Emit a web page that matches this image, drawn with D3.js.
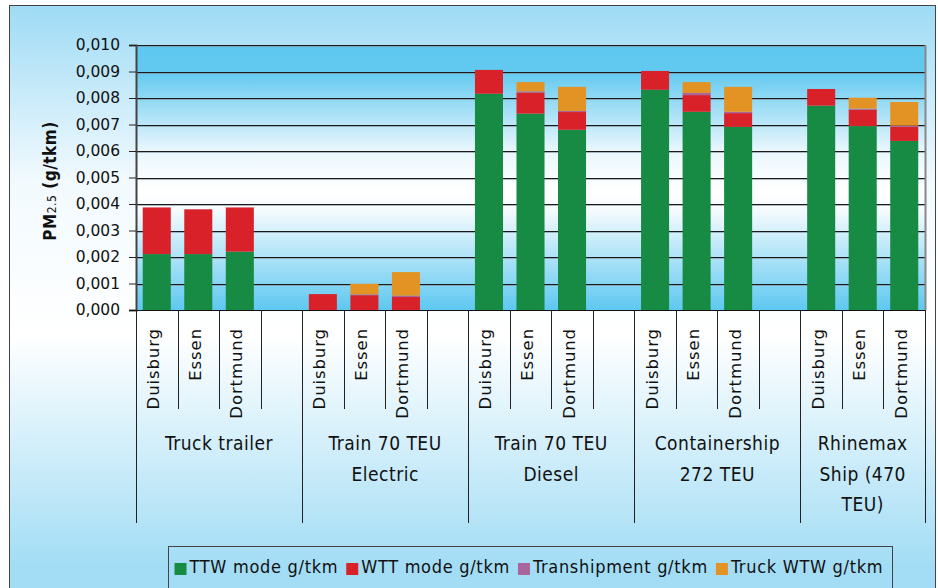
<!DOCTYPE html>
<html>
<head>
<meta charset="utf-8">
<script src="https://cdn.jsdelivr.net/npm/d3@7"></script>
<style>
  body { margin: 0; background: #fff; }
  svg { display: block; font-family: "DejaVu Sans", sans-serif; }
  .cond { font-family: "DejaVu Sans Condensed", "DejaVu Sans", sans-serif; font-stretch: condensed; }
</style>
</head>
<body>
<div id="chart"></div>
<script>
// values (g/tkm)
var groupLines = [["Truck trailer"], ["Train 70 TEU", "Electric"], ["Train 70 TEU", "Diesel"], ["Containership", "272 TEU"], ["Rhinemax", "Ship (470", "TEU)"]];
var cities = ["Duisburg", "Essen", "Dortmund"];
var seriesNames = ["TTW mode g/tkm", "WTT mode g/tkm", "Transhipment g/tkm", "Truck WTW g/tkm"];
var colors = ["#178a43", "#d9212a", "#a9659d", "#e39324"];
var ttw      = [0.00211, 0.00211, 0.00220, 0, 0, 0, 0.00816, 0.00741, 0.00680, 0.00831, 0.00748, 0.00691, 0.00771, 0.00694, 0.00638];
var wtt      = [0.00176, 0.00169, 0.00167, 0.00060, 0.00056, 0.00049, 0.00090, 0.00080, 0.00067, 0.00071, 0.00063, 0.00052, 0.00063, 0.00062, 0.00053];
var tranship = [0, 0, 0, 0, 0.00003, 0.00005, 0, 0.00004, 0.00004, 0, 0.00008, 0.00005, 0, 0.00004, 0.00005];
var truck    = [0, 0, 0, 0, 0.00040, 0.00089, 0, 0.00035, 0.00091, 0, 0.00041, 0.00094, 0, 0.00041, 0.00089];
var yTicks = [0, 0.001, 0.002, 0.003, 0.004, 0.005, 0.006, 0.007, 0.008, 0.009, 0.010];

var W = 938, H = 588;
var plot = {left: 136, right: 925, top: 45, bottom: 310};

// one row per bar
var rows = [];
groupLines.forEach(function (g, gi) {
  cities.forEach(function (c, ci) {
    var k = gi * 3 + ci;
    rows.push({key: gi + "|" + c, g: gi, c: ci, ttw: ttw[k], wtt: wtt[k], tranship: tranship[k], truck: truck[k]});
  });
});
// slot domain: 3 cities then an empty slot (not after the last group)
var slots = [];
groupLines.forEach(function (g, gi) {
  cities.forEach(function (c) { slots.push(gi + "|" + c); });
  if (gi < groupLines.length - 1) slots.push(gi + "|gap");
});

var keys = ["ttw", "wtt", "tranship", "truck"];
var series = d3.stack().keys(keys)(rows);

var x = d3.scaleBand()
  .domain(slots)
  .range([plot.left, plot.right])
  .paddingInner(0.325)
  .paddingOuter(0.1625);
var slotStart = function (s) { return x(s) - x.step() * x.paddingInner() / 2; };

var y = d3.scaleLinear()
  .domain([0, 0.010])
  .range([plot.bottom, plot.top]);

var svg = d3.select("#chart").append("svg")
  .attr("width", W).attr("height", H);

var defs = svg.append("defs");
var outerG = defs.append("linearGradient").attr("id", "outerG").attr("x1", 0).attr("y1", 0).attr("x2", 0).attr("y2", 1);
[[0, "#9edbf5"], [0.3, "#f2fafe"], [0.56, "#ffffff"], [0.95, "#a3ddf5"], [1, "#a3ddf5"]].forEach(function (s) {
  outerG.append("stop").attr("offset", s[0]).attr("stop-color", s[1]);
});
var plotG = defs.append("linearGradient").attr("id", "plotG").attr("x1", 0).attr("y1", 0).attr("x2", 0).attr("y2", 1);
[[0, "#5ec8f0"], [0.1, "#62c9f0"], [0.4, "#eaf7fd"], [0.55, "#ffffff"], [0.62, "#f6fbfe"], [1, "#5ec8f0"]].forEach(function (s) {
  plotG.append("stop").attr("offset", s[0]).attr("stop-color", s[1]);
});

// outer chart area
svg.append("rect")
  .attr("x", 9.5).attr("y", 5.5).attr("width", W - 12).attr("height", H)
  .attr("fill", "url(#outerG)").attr("stroke", "#444");

// plot background
svg.append("rect")
  .attr("x", plot.left).attr("y", plot.top)
  .attr("width", plot.right - plot.left).attr("height", plot.bottom - plot.top)
  .attr("fill", "url(#plotG)");

// gridlines
var grid = svg.append("g");
grid.selectAll("line.sh")
  .data(yTicks.slice(1))
  .join("line")
  .attr("class", "sh")
  .attr("x1", plot.left).attr("x2", plot.right)
  .attr("y1", d => Math.round(y(d)) + 1.5).attr("y2", d => Math.round(y(d)) + 1.5)
  .attr("stroke", "#7a8a95").attr("stroke-opacity", 0.6);
grid.selectAll("line.gl")
  .data(yTicks.slice(1))
  .join("line")
  .attr("class", "gl")
  .attr("x1", plot.left).attr("x2", plot.right)
  .attr("y1", d => Math.round(y(d)) + 0.5).attr("y2", d => Math.round(y(d)) + 0.5)
  .attr("stroke", "#1a1a1a");

// bars
svg.append("g")
  .selectAll("g")
  .data(series)
  .join("g")
    .attr("fill", (d, i) => colors[i])
    .selectAll("rect")
    .data(d => d)
  .join("rect")
    .attr("x", d => x(d.data.key))
    .attr("y", d => y(d[1]))
    .attr("height", d => y(d[0]) - y(d[1]))
    .attr("width", x.bandwidth());

// right plot edge
svg.append("line")
  .attr("x1", plot.right + 0.5).attr("x2", plot.right + 0.5)
  .attr("y1", plot.top).attr("y2", plot.bottom)
  .attr("stroke", "#888").attr("stroke-width", 2);

// y axis
var yAxis = g => g
  .attr("transform", `translate(${plot.left},0)`)
  .call(d3.axisLeft(y).tickValues(yTicks).tickSize(7).tickPadding(9)
    .tickFormat(d => d.toFixed(3).replace(".", ",")))
  .call(g => g.select(".domain").attr("stroke", "#444").attr("stroke-width", 2))
  .call(g => g.selectAll(".tick line").attr("stroke", "#222"))
  .call(g => g.selectAll(".tick text").attr("font-size", 15.5).attr("fill", "#111")
    .attr("font-family", "DejaVu Sans"));
svg.append("g").call(yAxis);

// y title
var yt = svg.append("text")
  .attr("class", "cond")
  .attr("transform", "translate(56,181) rotate(-90)")
  .attr("text-anchor", "middle")
  .attr("font-size", 17).attr("font-weight", "bold").attr("fill", "#111")
  .attr("letter-spacing", 0.5);
yt.append("tspan").text("PM");
yt.append("tspan").attr("font-size", 12).attr("font-weight", "normal").text("2.5");
yt.append("tspan").text("  (g/tkm)");

// x axis base line
svg.append("line")
  .attr("x1", plot.left - 7).attr("x2", plot.right)
  .attr("y1", plot.bottom + 0.5).attr("y2", plot.bottom + 0.5)
  .attr("stroke", "#111");

// category separators
var sep = svg.append("g").attr("stroke", "#222");
slots.forEach(function (s) {
  var isGroupStart = s.split("|")[1] === cities[0];
  sep.append("line")
    .attr("x1", Math.round(slotStart(s)) + 0.5).attr("x2", Math.round(slotStart(s)) + 0.5)
    .attr("y1", plot.bottom).attr("y2", isGroupStart ? 523 : 409);
});
sep.append("line")
  .attr("x1", plot.right + 0.5).attr("x2", plot.right + 0.5)
  .attr("y1", plot.bottom).attr("y2", 523);

// city labels
svg.append("g")
  .selectAll("text")
  .data(rows)
  .join("text")
  .attr("transform", d => `translate(${x(d.key) + x.bandwidth() / 2 + 2.5},328) rotate(-90)`)
  .attr("text-anchor", "end")
  .attr("font-size", 16.5).attr("fill", "#111")
  .attr("letter-spacing", 0.9)
  .text(d => cities[d.c]);

// group labels
groupLines.forEach(function (lines, gi) {
  var x0 = slotStart(gi + "|" + cities[0]);
  var x1 = gi < groupLines.length - 1 ? slotStart((gi + 1) + "|" + cities[0]) : plot.right;
  var t = svg.append("text")
    .attr("class", "cond")
    .attr("text-anchor", "middle")
    .attr("font-size", 19).attr("fill", "#111")
    .attr("letter-spacing", 0.5);
  lines.forEach(function (l, li) {
    t.append("tspan").attr("x", (x0 + x1) / 2).attr("y", 450 + li * 30.5).text(l);
  });
});

// legend
var leg = svg.append("g");
leg.append("rect")
  .attr("x", 168.5).attr("y", 546.5).attr("width", 724).attr("height", 50)
  .attr("fill", "none").attr("stroke", "#444");
var lx = 174.5;
seriesNames.forEach(function (n, i) {
  leg.append("rect")
    .attr("x", lx).attr("y", 563).attr("width", 12).attr("height", 12)
    .attr("fill", colors[i]);
  var t = leg.append("text")
    .attr("class", "cond")
    .attr("x", lx + 15).attr("y", 573)
    .attr("font-size", 18).attr("fill", "#111").attr("letter-spacing", 0.7)
    .text(n);
  lx += 15 + t.node().getComputedTextLength() + 8;
});
</script>
</body>
</html>
